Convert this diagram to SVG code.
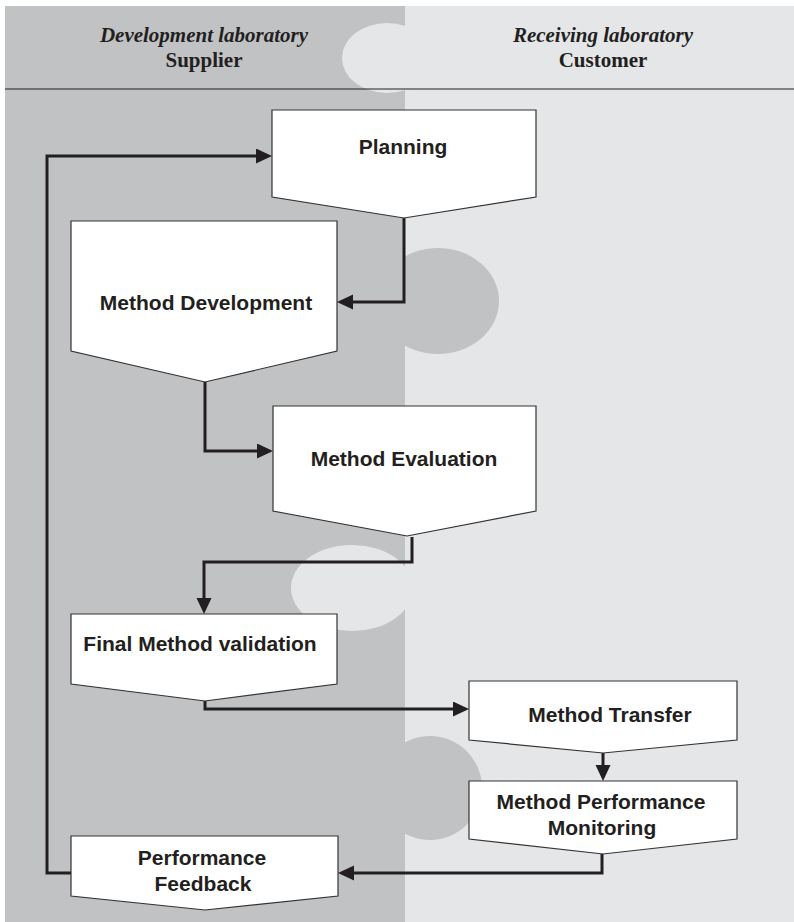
<svg xmlns="http://www.w3.org/2000/svg" width="794" height="922" viewBox="0 0 794 922">
  <defs>
    <style>
      .dark { fill: #c1c2c4; }
      .light { fill: #e5e6e8; }
      .node { fill: #ffffff; stroke: #333333; stroke-width: 1.2; }
      .lbl { font-family: "Liberation Sans", Arial, sans-serif; font-weight: bold; font-size: 21px; fill: #231f20; text-anchor: middle; }
      .hdr { font-family: "Liberation Serif", "Times New Roman", serif; font-weight: bold; font-size: 21px; fill: #231f20; text-anchor: middle; }
      .conn { fill: none; stroke: #231f20; stroke-width: 3; stroke-linejoin: miter; marker-end: url(#arrow); }
    </style>
    <marker id="arrow" markerUnits="userSpaceOnUse" markerWidth="18" markerHeight="18" refX="2" refY="7.5" orient="auto">
      <path d="M0,0 L16,7.5 L0,15 z" fill="#231f20"/>
    </marker>
  </defs>

  <g id="background">
    <rect class="dark" x="5" y="6" width="400" height="916"/>
    <rect class="light" x="405" y="6" width="389" height="916"/>
    <ellipse class="light" cx="387" cy="58" rx="45" ry="35"/>
    <ellipse class="dark" cx="438" cy="301" rx="61" ry="53"/>
    <ellipse class="light" cx="352" cy="588" rx="61" ry="43"/>
    <circle class="dark" cx="430" cy="788" r="52"/>
    <line x1="5" y1="89" x2="794" y2="89" stroke="#231f20" stroke-width="1.2"/>
  </g>

  <g id="header">
    <text class="hdr" x="204" y="42" font-style="italic">Development laboratory</text>
    <text class="hdr" x="204" y="67">Supplier</text>
    <text class="hdr" x="603" y="42" font-style="italic">Receiving laboratory</text>
    <text class="hdr" x="603" y="67">Customer</text>
  </g>

  <g id="connectors">
    <path class="conn" d="M71,873 H47 V156 H258"/>
    <path class="conn" d="M404,218 V302 H351"/>
    <path class="conn" d="M205,382 V451 H259"/>
    <path class="conn" d="M412,537 V562 H204 V600"/>
    <path class="conn" d="M205,701 V709 H455"/>
    <path class="conn" d="M603,753 V767"/>
    <path class="conn" d="M602,854 V873 H352"/>
  </g>

  <g id="planning">
    <polygon class="node" points="272,110 536,110 536,197 404,218 272,197"/>
    <text class="lbl" x="403" y="154">Planning</text>
  </g>
  <g id="method-development">
    <polygon class="node" points="71,221 337,221 337,351 205,382 71,351"/>
    <text class="lbl" x="206" y="310">Method Development</text>
  </g>
  <g id="method-evaluation">
    <polygon class="node" points="273,406 536,406 536,511 407,536 273,511"/>
    <text class="lbl" x="404" y="466">Method Evaluation</text>
  </g>
  <g id="final-method-validation">
    <polygon class="node" points="71,614 337,614 337,684 205,701 71,684"/>
    <text class="lbl" x="200" y="651">Final Method validation</text>
  </g>
  <g id="method-transfer">
    <polygon class="node" points="469,681 737,681 737,740 603,753 469,740"/>
    <text class="lbl" x="610" y="722">Method Transfer</text>
  </g>
  <g id="method-performance-monitoring">
    <polygon class="node" points="469,781 737,781 737,839 603,854 469,839"/>
    <text class="lbl" x="601" y="809">Method Performance</text>
    <text class="lbl" x="602" y="835">Monitoring</text>
  </g>
  <g id="performance-feedback">
    <polygon class="node" points="71,836 338,836 338,896 205,910 71,896"/>
    <text class="lbl" x="202" y="865">Performance</text>
    <text class="lbl" x="203" y="891">Feedback</text>
  </g>
</svg>
